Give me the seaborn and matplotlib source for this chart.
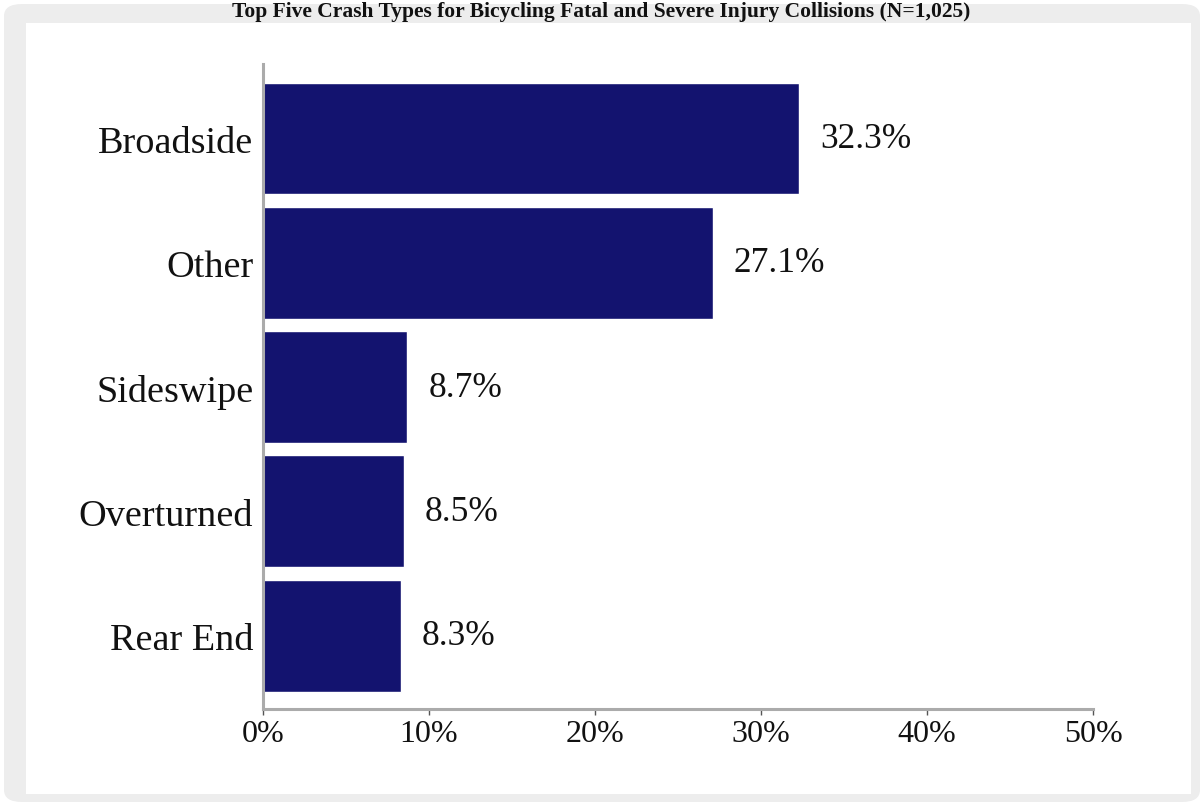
"""Top five crash types, horizontal bar chart."""

import matplotlib.pyplot as plt
import pandas as pd
import seaborn as sns
from matplotlib.patches import FancyBboxPatch, Rectangle
from matplotlib.ticker import FuncFormatter

CATEGORIES = ["Broadside", "Other", "Sideswipe", "Overturned", "Rear End"]
SHARES = [32.3, 27.1, 8.7, 8.5, 8.3]
X_TICKS = [0, 10, 20, 30, 40, 50]
TITLE = "Top Five Crash Types for Bicycling Fatal and Severe Injury Collisions (N=1,025)"

NAVY = "#13136F"
FRAME = "#EDEDED"
SPINE = "#ABABAB"

W, H = 1203, 803


def main():
    sns.set_theme(style="white")
    plt.rcParams["font.family"] = ["Liberation Serif", "DejaVu Serif"]

    fig = plt.figure(figsize=(W / 100, H / 100), dpi=100, facecolor="white")

    # grey rounded frame with white panel behind the axes
    fig.patches.append(
        FancyBboxPatch((4 / W, 0), (W - 7) / W, (H - 5) / H,
                       boxstyle="round,pad=0,rounding_size=0.015",
                       transform=fig.transFigure, facecolor=FRAME,
                       edgecolor="none", zorder=-3)
    )
    fig.patches.append(
        Rectangle((26 / W, (H - 795) / H), (1191 - 26) / W, (795 - 24) / H,
                  transform=fig.transFigure, facecolor="white",
                  edgecolor="none", zorder=-2)
    )

    ax = fig.add_axes([263 / W, (H - 710) / H, (1093 - 263) / W, (710 - 65) / H])
    ax.set_facecolor("none")

    data = pd.DataFrame({"type": CATEGORIES, "share": SHARES})
    sns.barplot(data=data, x="share", y="type", orient="h", color=NAVY,
                width=0.9, saturation=1, ax=ax)

    ax.bar_label(ax.containers[0], labels=[f"{v:.1f}%" for v in SHARES],
                 padding=15, fontsize=25.5, color="#111111")

    ax.set_xlim(0, 50)
    ax.set_ylim(4.59, -0.6)
    ax.set_xticks(X_TICKS)
    ax.xaxis.set_major_formatter(FuncFormatter(lambda v, _: f"{v:.0f}%"))
    ax.set_xlabel("")
    ax.set_ylabel("")

    for side in ["top", "right"]:
        ax.spines[side].set_visible(False)
    for side in ["left", "bottom"]:
        ax.spines[side].set_color(SPINE)
        ax.spines[side].set_linewidth(2.2)

    ax.tick_params(axis="x", bottom=True, length=4, width=1, color="#555555",
                   labelsize=23, pad=3, labelcolor="#111111")
    ax.tick_params(axis="y", left=False, labelsize=27.5, pad=1,
                   labelcolor="#111111")

    # title squeezed into the top band of the frame
    fig.text(0.5, 1 - 17 / H, TITLE, ha="center", va="baseline",
             fontsize=15.5, fontweight="bold", color="#111111")

    fig.savefig("out.png", dpi=100, facecolor="white")
    plt.close(fig)


if __name__ == "__main__":
    main()
